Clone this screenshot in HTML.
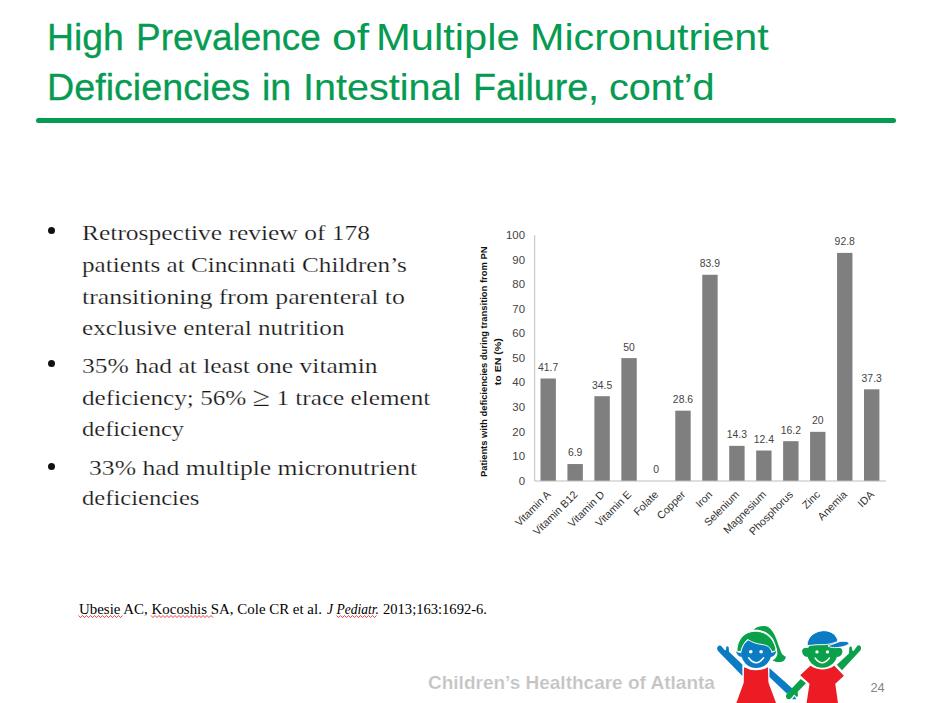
<!DOCTYPE html>
<html lang="en">
<head>
<meta charset="utf-8">
<title>High Prevalence of Multiple Micronutrient Deficiencies in Intestinal Failure, cont'd</title>
<style>
html,body{margin:0;padding:0;background:#fff;}
body{width:932px;height:703px;position:relative;overflow:hidden;font-family:"Liberation Sans",sans-serif;}
.abs{position:absolute;white-space:nowrap;transform-origin:0 0;}
.title{color:#059b52;-webkit-text-stroke:0.4px #059b52;font-family:"Liberation Sans",sans-serif;font-size:37.3px;line-height:44px;left:48px;}
.rule{position:absolute;left:36px;top:118px;width:860px;height:5px;background:#059b52;border-radius:2.5px;}
.b{font-family:"Liberation Serif",serif;font-size:21.7px;line-height:30px;color:#151515;left:83.5px;-webkit-text-stroke:0.22px #fff;}
.dot{position:absolute;left:48.2px;width:7px;height:7px;border-radius:50%;background:#111;}
.ref{font-family:"Liberation Serif",serif;font-size:14.67px;line-height:16px;color:#000;left:79.3px;top:601.4px;}
.foot{font-family:"Liberation Sans",sans-serif;font-weight:bold;font-size:17.5px;line-height:20px;color:#c3c3c3;left:428px;top:673px;-webkit-text-stroke:0.2px #fff;}
.pg{font-family:"Liberation Sans",sans-serif;font-size:12.8px;line-height:14px;color:#858585;left:870.5px;top:681px;}
</style>
</head>
<body>
<div class="titlebox">
<span id="t1w0" class="abs title" style="top:14.9px;left:46.99px;transform:scaleX(1.0019);-webkit-text-stroke-width:0.3px">High</span>
<span id="t1w1" class="abs title" style="top:14.9px;left:135.53px;transform:scaleX(0.9899);-webkit-text-stroke-width:0.3px">Prevalence</span>
<span id="t1w2" class="abs title" style="top:14.9px;left:331.81px;transform:scaleX(1.1905);-webkit-text-stroke-width:0px">of</span>
<span id="t1w3" class="abs title" style="top:14.9px;left:375.95px;transform:scaleX(1.1180);-webkit-text-stroke-width:0px">Multiple</span>
<span id="t1w4" class="abs title" style="top:14.9px;left:529.98px;transform:scaleX(1.1079);-webkit-text-stroke-width:0px">Micronutrient</span>
<span id="t2w0" class="abs title" style="top:64.6px;left:47.37px;transform:scaleX(1.0105);-webkit-text-stroke-width:0.3px">Deficiencies</span>
<span id="t2w1" class="abs title" style="top:64.6px;left:261.98px;transform:scaleX(1.0085);-webkit-text-stroke-width:0.3px">in</span>
<span id="t2w2" class="abs title" style="top:64.6px;left:303.12px;transform:scaleX(1.0598);-webkit-text-stroke-width:0.15px">Intestinal</span>
<span id="t2w3" class="abs title" style="top:64.6px;left:472.66px;transform:scaleX(1.0117);-webkit-text-stroke-width:0.3px">Failure,</span>
<span id="t2w4" class="abs title" style="top:64.6px;left:608.54px;transform:scaleX(1.0611);-webkit-text-stroke-width:0.15px">cont’d</span>
</div>
<div class="rule"></div>

<div class="dot" style="top:227.4px"></div>
<div id="l1" class="abs b" style="top:217.5px;left:82.3px;transform:scaleX(1.1748)">Retrospective review of 178</div>
<div id="l2" class="abs b" style="top:249.9px;left:82.3px;transform:scaleX(1.1598)">patients at Cincinnati Children’s</div>
<div id="l3" class="abs b" style="top:282.1px;left:82.3px;transform:scaleX(1.1884)">transitioning from parenteral to</div>
<div id="l4" class="abs b" style="top:313.0px;left:82.3px;transform:scaleX(1.1592)">exclusive enteral nutrition</div>
<div class="dot" style="top:360.3px"></div>
<div id="l5" class="abs b" style="top:350.5px;left:82.3px;transform:scaleX(1.1766)">35% had at least one vitamin</div>
<div id="l6" class="abs b" style="top:382.8px;left:82.3px;transform:scaleX(1.1612)">deficiency; 56% <span style="font-size:27.5px;line-height:0;position:relative;top:0.8px">≥</span> 1 trace element</div>
<div id="l7" class="abs b" style="top:414.2px;left:82.3px;transform:scaleX(1.1306)">deficiency</div>
<div class="dot" style="top:463.1px"></div>
<div id="l8" class="abs b" style="top:452.6px;left:89.0px;transform:scaleX(1.1817)">33% had multiple micronutrient</div>
<div id="l9" class="abs b" style="top:482.8px;left:82.3px;transform:scaleX(1.1337)">deficiencies</div>

<div class="refbox">
<span id="refa" class="abs ref" style="left:79.4px;transform:scaleX(1.018)">Ubesie AC, Kocoshis SA, Cole CR et al.</span>
<span id="refb" class="abs ref" style="left:326.7px;transform:scaleX(0.924)"><i>J Pediatr.</i></span>
<span id="refc" class="abs ref" style="left:383.2px;transform:scaleX(0.994)">2013;163:1692-6.</span>
</div>
<!--SQUIG--><svg width="932" height="703" viewBox="0 0 932 703" style="position:absolute;left:0;top:0;pointer-events:none"><g fill="none" stroke="#f03030" stroke-width="0.9" stroke-linejoin="round"><polyline points="78.5,615.5 80.5,617.6 82.5,615.5 84.5,617.6 86.5,615.5 88.5,617.6 90.5,615.5 92.5,617.6 94.5,615.5 96.5,617.6 98.5,615.5 100.5,617.6 102.5,615.5 104.5,617.6 106.5,615.5 108.5,617.6 110.5,615.5 112.5,617.6 114.5,615.5 116.5,617.6 118.5,615.5 120.5,617.6 122.5,615.5"/><polyline points="151.0,615.5 153.0,617.6 155.0,615.5 157.0,617.6 159.0,615.5 161.0,617.6 163.0,615.5 165.0,617.6 167.0,615.5 169.0,617.6 171.0,615.5 173.0,617.6 175.0,615.5 177.0,617.6 179.0,615.5 181.0,617.6 183.0,615.5 185.0,617.6 187.0,615.5 189.0,617.6 191.0,615.5 193.0,617.6 195.0,615.5 197.0,617.6 199.0,615.5 201.0,617.6 203.0,615.5 205.0,617.6 207.0,615.5 209.0,617.6 211.0,615.5 213.0,617.6"/><polyline points="336.5,615.5 338.5,617.6 340.5,615.5 342.5,617.6 344.5,615.5 346.5,617.6 348.5,615.5 350.5,617.6 352.5,615.5 354.5,617.6 356.5,615.5 358.5,617.6 360.5,615.5 362.5,617.6 364.5,615.5 366.5,617.6 368.5,615.5 370.5,617.6 372.5,615.5 374.5,617.6 376.5,615.5"/></g></svg>

<div id="foot" class="abs foot" style="transform:scaleX(1.086)">Children’s Healthcare of Atlanta</div>
<div id="pg" class="abs pg">24</div>

<!--CHART_START-->
<svg class="chart" width="932" height="703" viewBox="0 0 932 703" style="position:absolute;left:0;top:0" font-family="'Liberation Sans',sans-serif">
<g fill="#7f7f7f">
<rect x="540.48" y="378.50" width="15.4" height="102.50"/>
<rect x="567.44" y="464.04" width="15.4" height="16.96"/>
<rect x="594.40" y="396.20" width="15.4" height="84.80"/>
<rect x="621.36" y="358.10" width="15.4" height="122.90"/>
<rect x="675.28" y="410.70" width="15.4" height="70.30"/>
<rect x="702.24" y="274.77" width="15.4" height="206.23"/>
<rect x="729.20" y="445.85" width="15.4" height="35.15"/>
<rect x="756.16" y="450.52" width="15.4" height="30.48"/>
<rect x="783.12" y="441.18" width="15.4" height="39.82"/>
<rect x="810.08" y="431.84" width="15.4" height="49.16"/>
<rect x="837.04" y="252.90" width="15.4" height="228.10"/>
<rect x="864.00" y="389.32" width="15.4" height="91.68"/>
</g>
<path d="M534.7 235.2V481.0H886" fill="none" stroke="#bdbdbd" stroke-width="1"/>
<g font-size="10.4" fill="#444" text-anchor="end">
<text transform="translate(525 484.80) scale(1.1 1)">0</text>
<text transform="translate(525 460.22) scale(1.1 1)">10</text>
<text transform="translate(525 435.64) scale(1.1 1)">20</text>
<text transform="translate(525 411.06) scale(1.1 1)">30</text>
<text transform="translate(525 386.48) scale(1.1 1)">40</text>
<text transform="translate(525 361.90) scale(1.1 1)">50</text>
<text transform="translate(525 337.32) scale(1.1 1)">60</text>
<text transform="translate(525 312.74) scale(1.1 1)">70</text>
<text transform="translate(525 288.16) scale(1.1 1)">80</text>
<text transform="translate(525 263.58) scale(1.1 1)">90</text>
<text transform="translate(525 239.00) scale(1.1 1)">100</text>
</g>
<g font-size="10.4" fill="#444" text-anchor="middle">
<text x="548.18" y="370.90">41.7</text>
<text x="575.14" y="456.44">6.9</text>
<text x="602.10" y="388.60">34.5</text>
<text x="629.06" y="350.50">50</text>
<text x="656.02" y="473.40">0</text>
<text x="682.98" y="403.10">28.6</text>
<text x="709.94" y="267.17">83.9</text>
<text x="736.90" y="438.25">14.3</text>
<text x="763.86" y="442.92">12.4</text>
<text x="790.82" y="433.58">16.2</text>
<text x="817.78" y="424.24">20</text>
<text x="844.74" y="245.30">92.8</text>
<text x="871.70" y="381.72">37.3</text>
</g>
<g font-size="10.7" fill="#333" text-anchor="end">
<text transform="translate(551.18 495.30) rotate(-45)">Vitamin A</text>
<text transform="translate(578.14 495.30) rotate(-45)">Vitamin B12</text>
<text transform="translate(605.10 495.30) rotate(-45)">Vitamin D</text>
<text transform="translate(632.06 495.30) rotate(-45)">Vitamin E</text>
<text transform="translate(659.02 495.30) rotate(-45)">Folate</text>
<text transform="translate(685.98 495.30) rotate(-45)">Copper</text>
<text transform="translate(712.94 495.30) rotate(-45)">Iron</text>
<text transform="translate(739.90 495.30) rotate(-45)">Selenium</text>
<text transform="translate(766.86 495.30) rotate(-45)">Magnesium</text>
<text transform="translate(793.82 495.30) rotate(-45)">Phosphorus</text>
<text transform="translate(820.78 495.30) rotate(-45)">Zinc</text>
<text transform="translate(847.74 495.30) rotate(-45)">Anemia</text>
<text transform="translate(874.70 495.30) rotate(-45)">IDA</text>
</g>
<g font-size="9.5" font-weight="bold" fill="#111" text-anchor="middle">
<text transform="translate(487.2 361.8) rotate(-90)" textLength="230.5" lengthAdjust="spacingAndGlyphs">Patients with deficiencies during transition from PN</text>
<text transform="translate(500.7 361.7) rotate(-90)" textLength="47" lengthAdjust="spacingAndGlyphs">to EN (%)</text>
</g>
</svg>
<!--CHART_END-->
<!--LOGO_START-->
<svg class="logo" width="932" height="703" viewBox="0 0 932 703" style="position:absolute;left:0;top:0">
<defs><clipPath id="lc"><rect x="700" y="620" width="180" height="83"/></clipPath></defs>
<g clip-path="url(#lc)">
<g transform="translate(710 620) scale(0.11811)">
<!-- girl -->
<path fill="#0b7bc4" d="M274 377 L161 269 L159 238 C159 228 153 222 147 222 C141 222 137 228 137 235 L136 250 C134 258 128 259 123 253 L100 227 C94 218 84 215 76 218 C64 223 58 236 61 246 C62 252 64 258 68 263 L274 474 Z"/>
<path fill="#0b7bc4" d="M503 407 L700 582 L650 623 L503 483 Z"/>
<path fill="#ec1c24" d="M288 399 Q390 453 491 399 L494 520 Q496 532 500 545 L559 703 L223 703 L281 545 Q286 532 286 520 Z"/>
<path fill="#0ba04a" d="M369 82 C385 62 420 50 459 50 C485 52 502 62 513 76 C530 96 542 116 551 136 C562 160 570 184 578 207 L600 266 C606 282 612 292 622 299 C628 304 636 310 643 312 C640 328 632 340 622 347 C608 356 594 357 578 356 C560 354 544 350 529 342 C542 336 552 330 557 320 C566 306 572 294 570 277 C569 258 566 240 559 223 C553 202 545 182 535 163 C525 146 512 132 497 120 C483 108 466 98 448 93 C434 88 420 84 405 83 C392 82 380 82 369 82 Z"/>
<circle fill="#0b7bc4" cx="392" cy="280" r="127"/>
<path fill="#0b7bc4" d="M268 274 C256 284 240 278 221 262 C222 286 240 308 270 315 Z"/>
<path fill="#0b7bc4" d="M514 272 C530 280 548 272 560 253 C563 280 545 306 512 315 Z"/>
<path fill="#0ba04a" stroke="#fff" stroke-width="8" stroke-linejoin="round" d="M229 268 C224 200 262 126 330 104 C392 84 470 96 522 162 C550 202 558 240 558 260 L524 270 C512 232 492 214 432 206 C400 202 366 194 318 165 C292 186 270 228 261 267 Z"/>
<circle fill="#fff" cx="345" cy="269" r="15.5"/><circle fill="#fff" cx="433" cy="269" r="15.5"/>
<path fill="none" stroke="#fff" stroke-width="12.5" stroke-linecap="round" d="M327 320 Q390 404 454 320"/>
</g>
<g transform="translate(780 620) scale(0.11811)">
<!-- boy -->
<path fill="#0ba04a" d="M481 379 L584 284 L586 240 C586 226 596 222 600 224 C610 226 610 236 611 254 C614 264 622 264 628 257 L652 222 C660 210 676 212 682 222 C690 234 686 250 680 258 L525 425 Z"/>
<path fill="#0ba04a" d="M176 500 L66 613 C48 632 46 650 56 662 C66 674 82 674 96 660 L117 635 C122 630 128 634 132 644 C136 654 150 654 152 640 L150 607 L220 535 Z"/>
<path fill="#0b7bc4" d="M102 672 L123 645 L139 672 Z"/>
<path fill="#ec1c24" d="M257 388 Q361 452 460 388 L541 472 L468 540 L491 703 L225 703 L250 540 L171 468 Z"/>
<ellipse fill="#0ba04a" cx="358" cy="282" rx="127" ry="123"/>
<path fill="#0ba04a" d="M470 236 L508 238 C524 240 531 256 528 274 C524 298 508 311 486 313 L460 300 Z"/>
<path fill="#0ba04a" d="M246 236 L208 238 C192 240 185 256 188 274 C192 298 208 311 230 313 L256 300 Z"/>
<path fill="#0b7bc4" stroke="#fff" stroke-width="8" d="M406 220 C440 208 470 194 500 184 C520 179 548 179 564 183 C582 187 588 199 579 207 C558 221 510 234 462 234 C440 234 420 229 406 220 Z"/>
<path fill="#0b7bc4" stroke="#fff" stroke-width="8" d="M230 217 C226 150 290 92 370 90 C440 90 486 134 490 182 C455 196 420 205 385 208 C330 207 280 211 230 217 Z"/>
<circle fill="#fff" cx="313" cy="270" r="14"/><circle fill="#fff" cx="402" cy="270" r="14"/>
<path fill="none" stroke="#fff" stroke-width="12.5" stroke-linecap="round" d="M297 322 Q356 402 418 322"/>
</g>
</g>
</svg>
<!--LOGO_END-->
</body>
</html>
